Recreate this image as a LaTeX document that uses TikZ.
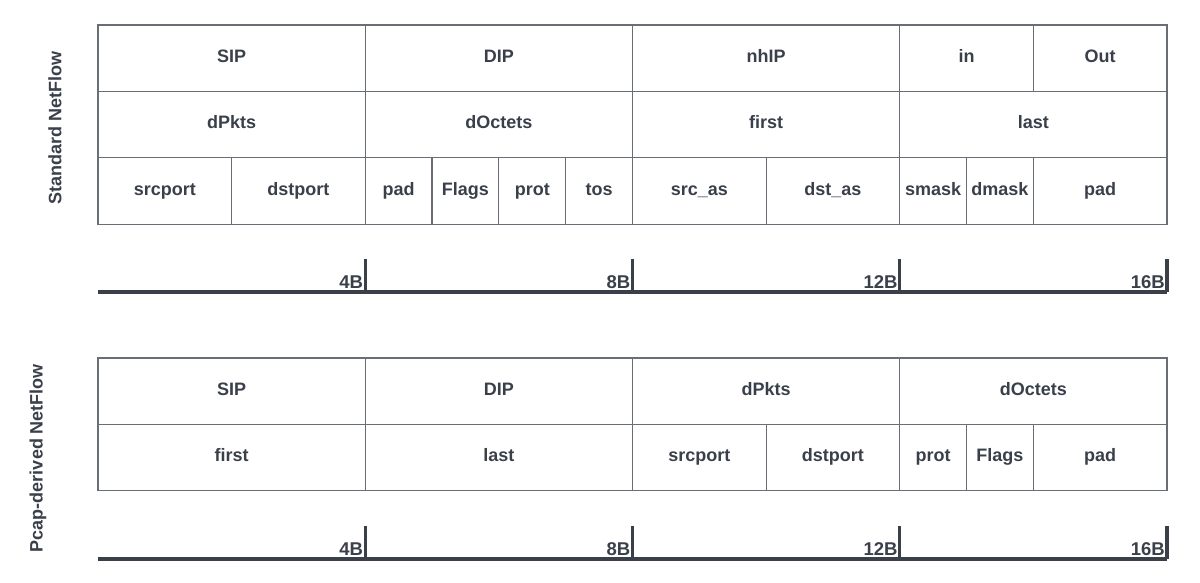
\documentclass[tikz,border=0pt]{standalone}
\usepackage{fontspec}
\setmainfont{Liberation Sans}
\usetikzlibrary{positioning}
\definecolor{txtDark}{RGB}{58,64,74}
\definecolor{cellLine}{RGB}{105,110,118}

\begin{document}
\begin{tikzpicture}[
    x=1pt, y=-1pt,
    every node/.style={font=\fontsize{18}{21}\selectfont\bfseries, text=txtDark},
    cell/.style   ={rectangle, draw=cellLine, line width=1.2pt, minimum width=#1*66.8125pt, minimum height=66.4pt, inner sep=0pt, outer sep=0pt, text height=13pt, text depth=4.5pt},
    title/.style  ={rotate=90, inner sep=0pt},
    scalebar/.style={draw=txtDark, line width=3.4pt},
    bytelbl/.style={anchor=base east, inner sep=0pt, font=\fontsize{18.5}{21}\selectfont\bfseries}
]
\useasboundingbox (0,0) rectangle (1200,582);
% standard netflow record
\node[title] (stdtitle) at (55,128) {Standard NetFlow};
\node[cell=4, anchor=north west] (sip) at (98,25) {SIP};
\node[cell=4, right=0pt of sip] (dip) {DIP};
\node[cell=4, right=0pt of dip] (nhip) {nhIP};
\node[cell=2, right=0pt of nhip] (inif) {in};
\node[cell=2, right=0pt of inif] (outif) {Out};
\node[cell=4, below=0pt of sip] (dpkts) {dPkts};
\node[cell=4, right=0pt of dpkts] (doctets) {dOctets};
\node[cell=4, right=0pt of doctets] (first) {first};
\node[cell=4, right=0pt of first] (last) {last};
\node[cell=2, below=0pt of dpkts.south west, anchor=north west] (srcport) {srcport};
\node[cell=2, right=0pt of srcport] (dstport) {dstport};
\node[cell=1, right=0pt of dstport] (padA) {pad};
\node[cell=1, right=0pt of padA] (flags) {Flags};
\node[cell=1, right=0pt of flags] (prot) {prot};
\node[cell=1, right=0pt of prot] (tos) {tos};
\node[cell=2, right=0pt of tos] (srcas) {src\_as};
\node[cell=2, right=0pt of srcas] (dstas) {dst\_as};
\node[cell=1, right=0pt of dstas] (smask) {smask};
\node[cell=1, right=0pt of smask] (dmask) {dmask};
\node[cell=2, right=0pt of dmask] (padB) {pad};
% pcap-derived netflow record
\node[title] (pcaptitle) at (38,458) {Pcap-derived NetFlow};
\node[cell=4, anchor=north west] (psip) at (98,358) {SIP};
\node[cell=4, right=0pt of psip] (pdip) {DIP};
\node[cell=4, right=0pt of pdip] (pdpkts) {dPkts};
\node[cell=4, right=0pt of pdpkts] (pdoctets) {dOctets};
\node[cell=4, below=0pt of psip] (pfirst) {first};
\node[cell=4, right=0pt of pfirst] (plast) {last};
\node[cell=2, right=0pt of plast] (psrcport) {srcport};
\node[cell=2, right=0pt of psrcport] (pdstport) {dstport};
\node[cell=1, right=0pt of pdstport] (pprot) {prot};
\node[cell=1, right=0pt of pprot] (pflags) {Flags};
\node[cell=2, right=0pt of pflags] (ppad) {pad};
% byte scales
\foreach \s/\y in {std/292, pcap/559} {
  \coordinate (\s barL) at (98,\y);
  \coordinate (\s barR) at (1167,\y);
  \draw[scalebar] (\s barL) -- (\s barR);
  \foreach \n in {4,8,12,16} {
    \coordinate (\s tick\n) at (98+\n*66.8125,\y-33);
    \coordinate (\s foot\n) at (98+\n*66.8125,\y);
    \draw[scalebar] (\s tick\n) -- (\s foot\n);
    \node[bytelbl, xshift=-2pt, yshift=3.5pt] (\s lbl\n) at (\s foot\n) {\n B};
  }
}
\end{tikzpicture}
\end{document}
